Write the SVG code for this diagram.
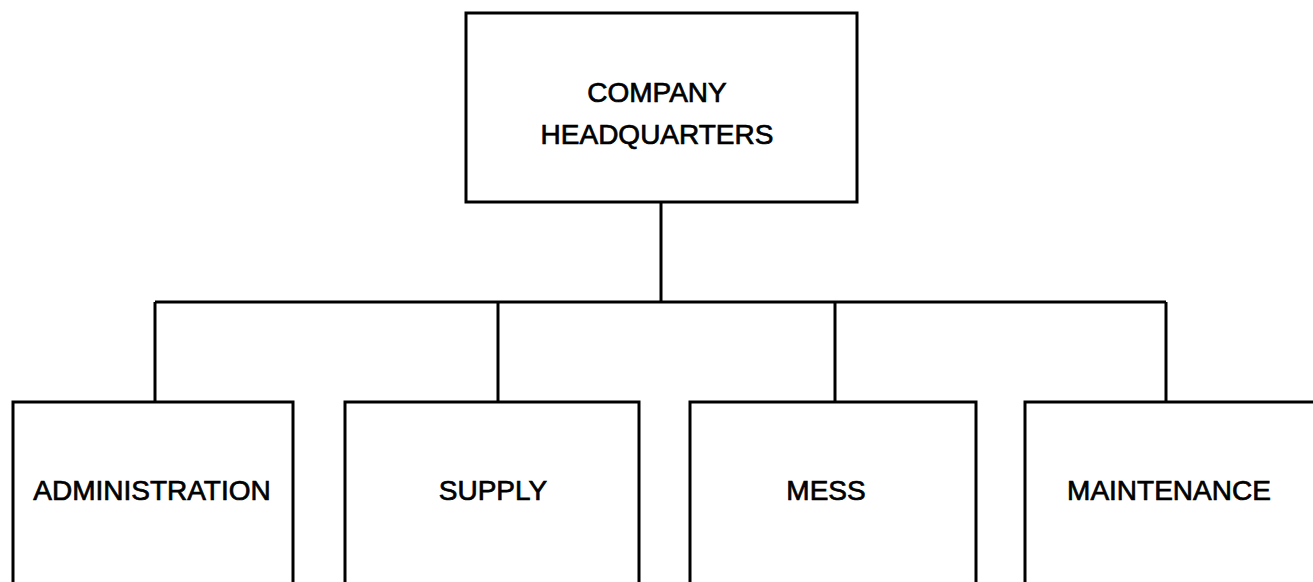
<svg xmlns="http://www.w3.org/2000/svg" width="1313" height="582" viewBox="0 0 1313 582">
<style>
.box{fill:#fff;stroke:#000;stroke-width:3}
.conn{fill:none;stroke:#000;stroke-width:3}
.lbl{font-family:"Liberation Sans",Arial,sans-serif;font-size:28px;fill:#000;stroke:#000;stroke-width:0.7;text-anchor:middle}
</style>
<rect width="1313" height="582" fill="#fff"/>
<g id="connectors">
<path class="conn" d="M661 202 V302"/>
<path class="conn" d="M155 302 H1166"/>
<path class="conn" d="M155 302 V402"/>
<path class="conn" d="M498 302 V402"/>
<path class="conn" d="M835 302 V402"/>
<path class="conn" d="M1166 302 V402"/>
</g>
<g id="hq">
<rect class="box" x="466" y="13" width="391" height="189"/>
<text class="lbl" x="657" y="102">COMPANY</text>
<text class="lbl" x="657" y="144">HEADQUARTERS</text>
</g>
<g id="administration">
<rect class="box" x="13" y="402" width="280" height="200"/>
<text class="lbl" x="152" y="500">ADMINISTRATION</text>
</g>
<g id="supply">
<rect class="box" x="345" y="402" width="294" height="200"/>
<text class="lbl" x="493" y="500">SUPPLY</text>
</g>
<g id="mess">
<rect class="box" x="690" y="402" width="286" height="200"/>
<text class="lbl" x="826" y="500">MESS</text>
</g>
<g id="maintenance">
<rect class="box" x="1025" y="402" width="310" height="200"/>
<text class="lbl" x="1169" y="500">MAINTENANCE</text>
</g>
</svg>
